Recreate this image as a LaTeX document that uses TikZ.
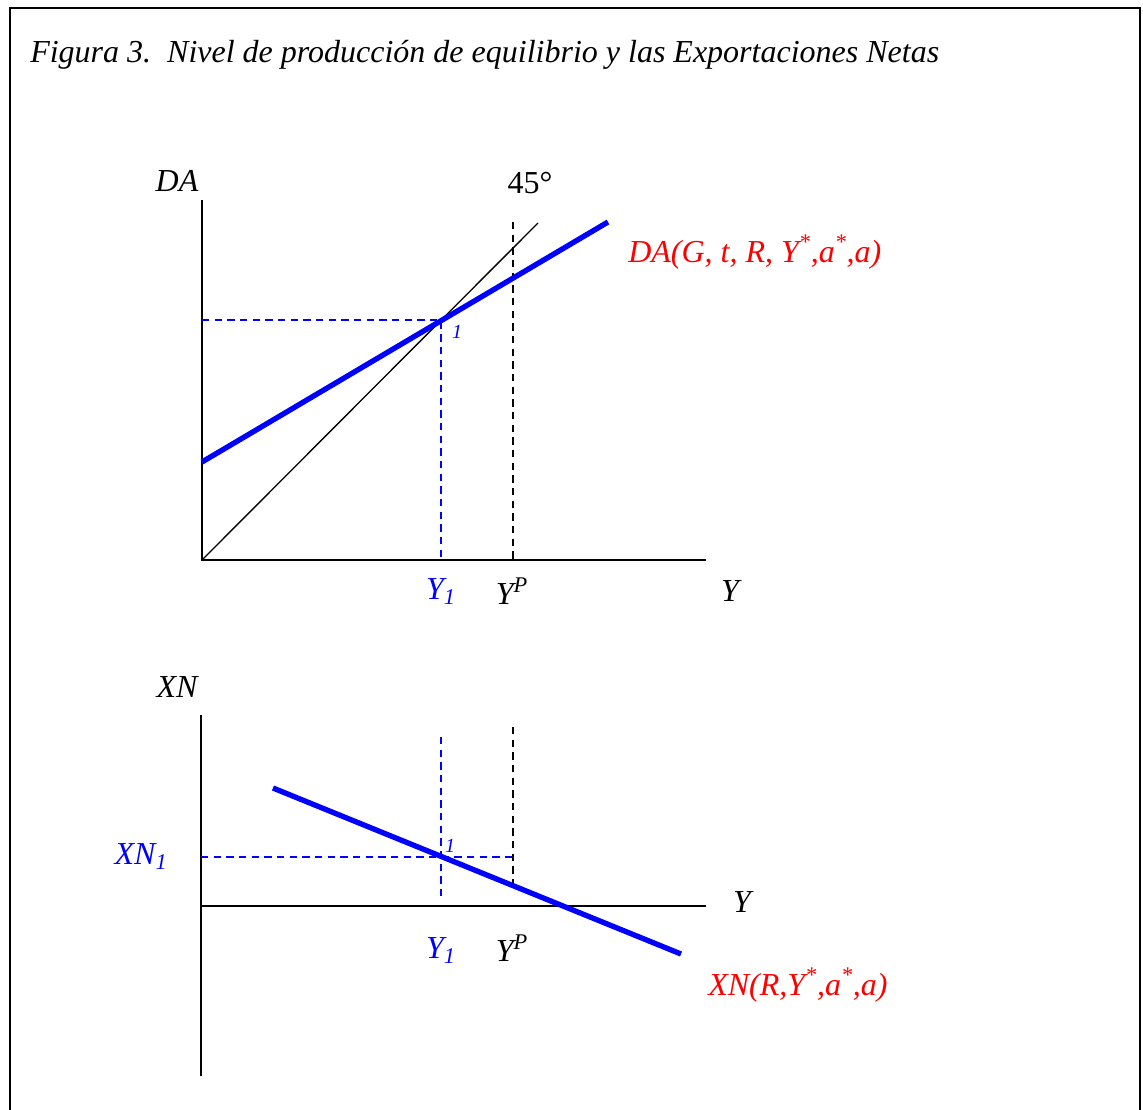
\documentclass[tikz,border=0pt]{standalone}
\usepackage{fontspec}
\setmainfont{Liberation Serif}
\usetikzlibrary{positioning}
\definecolor{curveblue}{RGB}{0,0,255}
\definecolor{labred}{RGB}{255,0,0}
\tikzset{
  frame/.style={draw=black,line width=1.6pt},
  axis/.style={draw=black,line width=1.3pt},
  thin45/.style={draw=black,line width=1pt},
  guide/.style={draw=#1,line width=1.1pt,dash pattern=on 5.5pt off 4pt},
  guide/.default=black,
  curve/.style={draw=curveblue,line width=4pt},
  lab/.style={font=\fontsize{24}{27}\selectfont\itshape,text=#1,inner sep=0pt},
  lab/.default=black,
  ptlab/.style={font=\fontsize{15}{17}\selectfont\itshape,text=curveblue,inner sep=0pt},
}

\begin{document}
\begin{tikzpicture}[x=0.75pt,y=-0.75pt]
  \useasboundingbox (0,0) rectangle (1143,1110);
  \draw[frame] (10,1112) -- (10,8) -- (1140,8) -- (1140,1112);
  \node[lab,anchor=base west] (title) at (30,62) {Figura 3.\hspace{0.5em}Nivel de producción de equilibrio y las Exportaciones Netas};

  % upper panel: DA and the 45 degree line
  \coordinate (oA) at (202,560);
  \coordinate (topA) at (202,200);
  \coordinate (endA) at (706,560);
  \coordinate (deg) at (538,223);
  \coordinate (daL) at (202,462);
  \coordinate (daR) at (608,222);
  \coordinate (eA) at (441,320);
  \coordinate (ypA) at (513,222);
  \draw[axis] (topA) -- (oA) -- (endA);
  \draw[thin45] (oA) -- (deg);
  \draw[guide=curveblue] (oA |- eA) -- (eA) -- (eA |- oA);
  \draw[guide] (ypA) -- (ypA |- oA);
  \draw[curve] (daL) -- (daR);

  \node[lab] (daLab) at (177,181) {DA};
  \node[lab,font=\fontsize{24}{27}\selectfont] (degLab) at (530,183) {45°};
  \node[lab=labred,anchor=base west] (daCurveLab) at (628,262) {DA(G, t, R, Y\textsuperscript{*},a\textsuperscript{*},a)};
  \node[ptlab] (eALab) at (457,332) {1};
  \node[lab=curveblue] (yOneA) at (441,592) {Y\textsubscript{1}};
  \node[lab] (yPA) at (512,591) {Y\textsuperscript{P}};
  \node[lab] (yA) at (730,591) {Y};

  % lower panel: net exports
  \coordinate (oB) at (201,906);
  \coordinate (topB) at (201,715);
  \coordinate (botB) at (201,1076);
  \coordinate (endB) at (706,906);
  \coordinate (xnL) at (273,788);
  \coordinate (xnR) at (681,954);
  \coordinate (eB) at (441,857);
  \coordinate (yOneTopB) at (441,737);
  \coordinate (yOneEndB) at (441,900);
  \coordinate (ypB) at (513,727);
  \coordinate (ypEndB) at (513,886);
  \draw[axis] (topB) -- (botB);
  \draw[axis] (oB) -- (endB);
  \draw[guide=curveblue] (oB |- eB) -- (ypB |- eB);
  \draw[guide=curveblue] (yOneTopB) -- (yOneEndB);
  \draw[guide] (ypB) -- (ypEndB);
  \draw[curve] (xnL) -- (xnR);

  \node[lab] (xnLab) at (177,687) {XN};
  \node[lab=curveblue] (xnOne) at (141,857) {XN\textsubscript{1}};
  \node[ptlab] (eBLab) at (450,846) {1};
  \node[lab] (yB) at (742,902) {Y};
  \node[lab=curveblue] (yOneB) at (441,951) {Y\textsubscript{1}};
  \node[lab] (yPB) at (512,948) {Y\textsuperscript{P}};
  \node[lab=labred,anchor=base west] (xnCurveLab) at (708,995) {XN(R,Y\textsuperscript{*},a\textsuperscript{*},a)};
\end{tikzpicture}
\end{document}
